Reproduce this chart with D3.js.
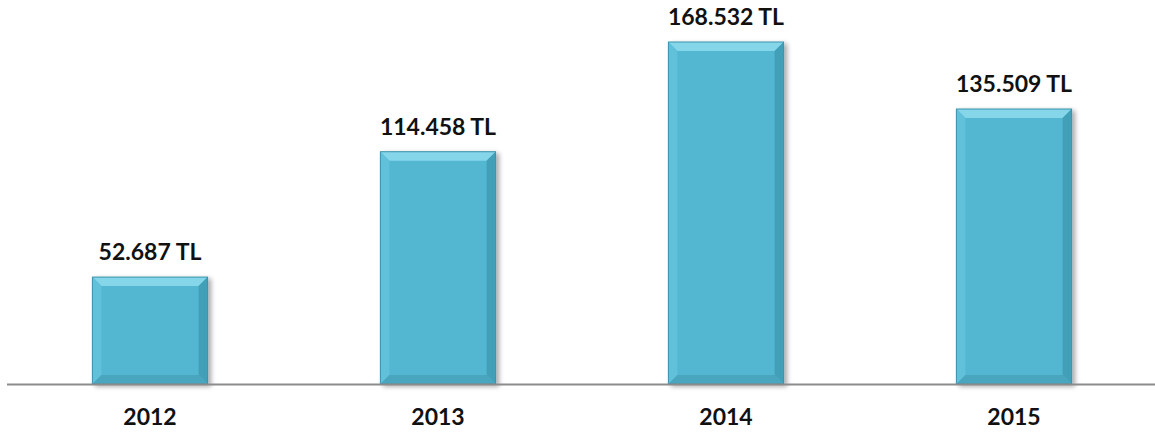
<!DOCTYPE html>
<html><head><meta charset="utf-8">
<script src="https://cdn.jsdelivr.net/npm/d3@7"></script>
<style>body{margin:0;background:#fff}svg{display:block}</style>
</head><body>
<svg id="c" width="1155" height="434"></svg>
<script>
const categories = ["2012", "2013", "2014", "2015"];
const values = [52687, 114458, 168532, 135509];
const valueLabels = ["52.687 TL", "114.458 TL", "168.532 TL", "135.509 TL"];

const svg = d3.select("#c");
const W = 1155, baseY = 384, topY = 42;
const x = d3.scaleBand().domain(categories).range([6, 1158]).paddingInner(0.6).paddingOuter(0.3);
const y = d3.scaleLinear().domain([0, 168532]).range([baseY, topY]);

const defs = svg.append("defs");
const f = defs.append("filter").attr("id", "sh").attr("x", "-10%").attr("y", "-10%").attr("width", "130%").attr("height", "130%");
f.append("feGaussianBlur").attr("in", "SourceAlpha").attr("stdDeviation", 2.5);
f.append("feOffset").attr("dx", 3).attr("dy", 2).attr("result", "b");
f.append("feComponentTransfer").append("feFuncA").attr("type", "linear").attr("slope", 0.35);
const m = f.append("feMerge"); m.append("feMergeNode"); m.append("feMergeNode").attr("in", "SourceGraphic");

const bw = x.bandwidth(), bev = 9;
const g = svg.append("g").selectAll("g").data(categories).join("g").attr("filter", "url(#sh)");
g.each(function(c, i) {
  const sel = d3.select(this);
  const x0 = x(c), x1 = x0 + bw, y0 = y(values[i]), y1 = y(0);
  const b = bev;
  sel.append("rect").attr("x", x0).attr("y", y0).attr("width", bw).attr("height", y1 - y0).attr("fill", "#52b7d2");
  const poly = (pts, fill) => sel.append("polygon").attr("points", pts.map(p => p.join(",")).join(" ")).attr("fill", fill);
  poly([[x0, y0], [x1, y0], [x1 - b, y0 + b], [x0 + b, y0 + b]], "#86d6ea");
  poly([[x0, y0], [x0 + b, y0 + b], [x0 + b, y1 - b], [x0, y1]], "#62c1da");
  poly([[x1, y0], [x1, y1], [x1 - b, y1 - b], [x1 - b, y0 + b]], "#429fb8");
  poly([[x0, y1], [x0 + b, y1 - b], [x1 - b, y1 - b], [x1, y1]], "#4aa6be");
  sel.append("rect").attr("x", x0).attr("y", y0).attr("width", bw).attr("height", y1 - y0).attr("fill", "none").attr("stroke", "#3a93ab").attr("stroke-width", 1);
});

svg.append("line").attr("x1", 7).attr("x2", W).attr("y1", baseY + 0.5).attr("y2", baseY + 0.5).attr("stroke", "#8c8c8c").attr("stroke-width", 2);

svg.append("g").selectAll("text").data(categories).join("text")
  .attr("x", (c) => x(c) + bw / 2).attr("y", (c, i) => y(values[i]) - 17)
  .attr("text-anchor", "middle").attr("font-family", "Lato, 'Open Sans', sans-serif").attr("font-weight", "bold")
  .attr("font-size", 23).attr("fill", "#111").text((c, i) => valueLabels[i]);

svg.append("g").selectAll("text").data(categories).join("text")
  .attr("x", (c) => x(c) + bw / 2).attr("y", 425)
  .attr("text-anchor", "middle").attr("font-family", "Lato, 'Open Sans', sans-serif").attr("font-weight", "bold")
  .attr("font-size", 23).attr("fill", "#111").text(c => c);
</script>
</body></html>
